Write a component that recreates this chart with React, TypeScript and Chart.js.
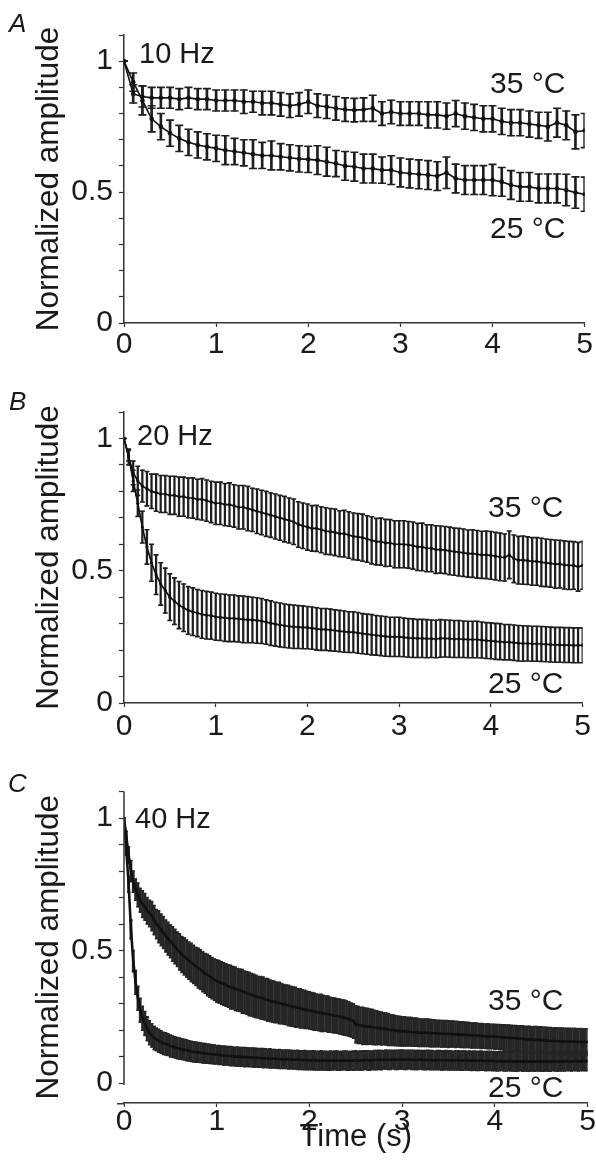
import React, { useEffect, useRef } from 'react';
import { Chart, registerables } from 'chart.js';

Chart.register(...registerables);

const FONT = '"Liberation Sans", Arial, Helvetica, sans-serif';
const INK = '#1a1a1a';

// ---------- axes ----------
const X_TICKS = [0, 1, 2, 3, 4, 5];
const Y_TICKS = [0, 0.1, 0.2, 0.3, 0.4, 0.5, 0.6, 0.7, 0.8, 0.9, 1.0, 1.1];
const Y_LABELED = [0, 0.5, 1];
const Y_TITLE = 'Normalized amplitude';
const X_TITLE = 'Time (s)';

// ---------- stimulation frequencies (sample spacing = 1/freq s) ----------
const FREQ_A = 10;
const FREQ_B = 20;
const FREQ_C = 40;

// ---------- Panel A: 10 Hz ----------
const A_35 = [
  1.00, 0.875, 0.865, 0.86, 0.86, 0.86, 0.855, 0.86, 0.855, 0.855,
  0.85, 0.85, 0.85, 0.845, 0.845, 0.84, 0.84, 0.835, 0.83, 0.835,
  0.845, 0.83, 0.826, 0.82, 0.815, 0.813, 0.815, 0.82, 0.80, 0.806,
  0.80, 0.80, 0.80, 0.795, 0.795, 0.79, 0.80, 0.79, 0.785, 0.78,
  0.78, 0.77, 0.765, 0.765, 0.76, 0.755, 0.75, 0.765, 0.755, 0.73,
  0.735,
];
const A_35_ERR = [
  0, 0.035, 0.04, 0.04, 0.04, 0.04, 0.04, 0.04, 0.04, 0.04,
  0.04, 0.04, 0.04, 0.045, 0.04, 0.045, 0.045, 0.045, 0.045, 0.045,
  0.045, 0.045, 0.045, 0.045, 0.045, 0.045, 0.045, 0.05, 0.045, 0.045,
  0.045, 0.045, 0.045, 0.05, 0.05, 0.05, 0.05, 0.05, 0.05, 0.05,
  0.05, 0.05, 0.05, 0.05, 0.05, 0.05, 0.055, 0.055, 0.055, 0.065,
  0.065,
];
const A_25 = [
  1.00, 0.92, 0.85, 0.78, 0.75, 0.725, 0.705, 0.69, 0.68, 0.673,
  0.667, 0.66, 0.655, 0.65, 0.645, 0.64, 0.64, 0.635, 0.631, 0.627,
  0.625, 0.622, 0.616, 0.609, 0.60, 0.597, 0.59, 0.59, 0.584, 0.584,
  0.575, 0.571, 0.568, 0.565, 0.561, 0.574, 0.552, 0.546, 0.546, 0.546,
  0.546, 0.539, 0.527, 0.52, 0.52, 0.514, 0.514, 0.514, 0.508, 0.498,
  0.492,
];
const A_25_ERR = [
  0, 0.035, 0.055, 0.05, 0.05, 0.05, 0.05, 0.05, 0.05, 0.05,
  0.05, 0.055, 0.05, 0.05, 0.055, 0.05, 0.055, 0.05, 0.05, 0.05,
  0.05, 0.055, 0.055, 0.05, 0.055, 0.055, 0.055, 0.055, 0.05, 0.055,
  0.055, 0.055, 0.055, 0.055, 0.055, 0.06, 0.055, 0.055, 0.055, 0.055,
  0.06, 0.055, 0.055, 0.055, 0.055, 0.055, 0.055, 0.055, 0.06, 0.06,
  0.065,
];

// ---------- Panel B: 20 Hz ----------
const B_35 = [
  1.00, 0.93, 0.87, 0.84, 0.82, 0.81, 0.80, 0.795, 0.79, 0.79,
  0.785, 0.785, 0.78, 0.78, 0.775, 0.775, 0.77, 0.77, 0.765, 0.76,
  0.755, 0.755, 0.75, 0.75, 0.745, 0.74, 0.74, 0.735, 0.73, 0.725,
  0.72, 0.715, 0.71, 0.705, 0.70, 0.695, 0.69, 0.685, 0.675, 0.67,
  0.665, 0.66, 0.66, 0.655, 0.65, 0.648, 0.645, 0.64, 0.64, 0.635,
  0.63, 0.628, 0.625, 0.62, 0.615, 0.61, 0.61, 0.605, 0.605, 0.60,
  0.60, 0.60, 0.598, 0.595, 0.59, 0.59, 0.585, 0.585, 0.58, 0.58,
  0.578, 0.575, 0.572, 0.57, 0.568, 0.565, 0.565, 0.562, 0.56, 0.56,
  0.558, 0.555, 0.552, 0.55, 0.56, 0.545, 0.54, 0.54, 0.538, 0.535,
  0.535, 0.532, 0.53, 0.528, 0.525, 0.525, 0.522, 0.52, 0.52, 0.515,
  0.52,
];
const B_35_ERR = [
  0, 0.03, 0.045, 0.055, 0.06, 0.065, 0.065, 0.07, 0.07, 0.07,
  0.072, 0.072, 0.074, 0.074, 0.075, 0.076, 0.076, 0.078, 0.078, 0.078,
  0.08, 0.08, 0.08, 0.082, 0.08, 0.082, 0.082, 0.084, 0.082, 0.084,
  0.084, 0.085, 0.084, 0.085, 0.085, 0.086, 0.085, 0.086, 0.086, 0.086,
  0.087, 0.086, 0.087, 0.087, 0.088, 0.087, 0.088, 0.087, 0.088, 0.088,
  0.088, 0.088, 0.089, 0.088, 0.089, 0.088, 0.089, 0.089, 0.088, 0.089,
  0.089, 0.089, 0.088, 0.089, 0.089, 0.09, 0.089, 0.089, 0.09, 0.089,
  0.089, 0.09, 0.089, 0.09, 0.09, 0.089, 0.09, 0.09, 0.089, 0.09,
  0.09, 0.09, 0.09, 0.089, 0.09, 0.09, 0.09, 0.091, 0.09, 0.09,
  0.09, 0.091, 0.09, 0.09, 0.091, 0.09, 0.091, 0.091, 0.09, 0.092,
  0.09,
];
const B_25 = [
  1.00, 0.935, 0.84, 0.755, 0.665, 0.59, 0.53, 0.485, 0.45, 0.425,
  0.40, 0.385, 0.37, 0.36, 0.35, 0.345, 0.34, 0.335, 0.332, 0.33,
  0.326, 0.324, 0.322, 0.32, 0.32, 0.318, 0.316, 0.315, 0.314, 0.312,
  0.31, 0.306, 0.302, 0.298, 0.295, 0.292, 0.29, 0.288, 0.287, 0.286,
  0.285, 0.283, 0.28, 0.278, 0.278, 0.276, 0.274, 0.272, 0.27, 0.268,
  0.268, 0.265, 0.262, 0.26, 0.258, 0.256, 0.254, 0.252, 0.25, 0.25,
  0.25, 0.248, 0.246, 0.245, 0.244, 0.244, 0.243, 0.243, 0.242, 0.244,
  0.244, 0.243, 0.242, 0.242, 0.241, 0.24, 0.24, 0.24, 0.238, 0.236,
  0.235, 0.233, 0.232, 0.23, 0.23, 0.228, 0.226, 0.225, 0.225, 0.224,
  0.224, 0.223, 0.222, 0.221, 0.22, 0.22, 0.219, 0.219, 0.218, 0.218,
  0.218,
];
const B_25_ERR = [
  0, 0.02, 0.04, 0.05, 0.06, 0.065, 0.07, 0.075, 0.08, 0.085,
  0.088, 0.088, 0.089, 0.09, 0.09, 0.09, 0.089, 0.09, 0.09, 0.089,
  0.089, 0.088, 0.089, 0.088, 0.088, 0.087, 0.088, 0.087, 0.086, 0.086,
  0.085, 0.084, 0.084, 0.083, 0.083, 0.082, 0.082, 0.082, 0.081, 0.081,
  0.08, 0.08, 0.08, 0.079, 0.079, 0.079, 0.078, 0.078, 0.078, 0.077,
  0.077, 0.077, 0.076, 0.076, 0.076, 0.075, 0.075, 0.075, 0.074, 0.074,
  0.074, 0.073, 0.073, 0.073, 0.072, 0.072, 0.072, 0.071, 0.071, 0.071,
  0.07, 0.07, 0.07, 0.07, 0.069, 0.069, 0.069, 0.069, 0.068, 0.068,
  0.068, 0.068, 0.068, 0.067, 0.067, 0.067, 0.067, 0.067, 0.066, 0.066,
  0.066, 0.066, 0.066, 0.066, 0.066, 0.066, 0.066, 0.066, 0.066, 0.066,
  0.066,
];

// ---------- Panel C: 40 Hz ----------
const C_35 = [
  1.00, 0.93, 0.86, 0.80, 0.76, 0.73, 0.71, 0.69, 0.675, 0.665,
  0.65, 0.64, 0.63, 0.615, 0.60, 0.59, 0.578, 0.568, 0.555, 0.545,
  0.535, 0.525, 0.515, 0.505, 0.495, 0.485, 0.478, 0.47, 0.462, 0.455,
  0.448, 0.44, 0.434, 0.428, 0.42, 0.414, 0.408, 0.402, 0.396, 0.39,
  0.385, 0.382, 0.378, 0.374, 0.37, 0.366, 0.362, 0.36, 0.356, 0.352,
  0.35, 0.346, 0.343, 0.34, 0.336, 0.333, 0.33, 0.327, 0.324, 0.322,
  0.32, 0.316, 0.314, 0.311, 0.308, 0.306, 0.304, 0.302, 0.30, 0.297,
  0.295, 0.293, 0.29, 0.288, 0.286, 0.284, 0.282, 0.28, 0.278, 0.276,
  0.274, 0.272, 0.27, 0.268, 0.266, 0.265, 0.263, 0.262, 0.26, 0.258,
  0.256, 0.255, 0.253, 0.251, 0.249, 0.247, 0.245, 0.242, 0.238, 0.234,
  0.222, 0.22, 0.218, 0.216, 0.215, 0.214, 0.213, 0.212, 0.21, 0.209,
  0.208, 0.206, 0.205, 0.204, 0.202, 0.20, 0.20, 0.198, 0.197, 0.196,
  0.195, 0.195, 0.194, 0.194, 0.193, 0.192, 0.192, 0.191, 0.19, 0.19,
  0.19, 0.19, 0.189, 0.188, 0.188, 0.187, 0.187, 0.186, 0.186, 0.186,
  0.185, 0.185, 0.185, 0.184, 0.184, 0.183, 0.183, 0.182, 0.182, 0.181,
  0.18, 0.18, 0.18, 0.179, 0.178, 0.178, 0.177, 0.177, 0.176, 0.176,
  0.175, 0.175, 0.174, 0.173, 0.172, 0.172, 0.171, 0.17, 0.17, 0.169,
  0.168, 0.168, 0.167, 0.166, 0.165, 0.165, 0.164, 0.164, 0.163, 0.163,
  0.162, 0.162, 0.161, 0.16, 0.16, 0.159, 0.159, 0.158, 0.158, 0.158,
  0.157, 0.157, 0.157, 0.156, 0.156, 0.156, 0.155, 0.155, 0.155, 0.155,
  0.155,
];
const C_35_ERR = [
  0, 0.02, 0.03, 0.04, 0.04, 0.04, 0.045, 0.045, 0.05, 0.05,
  0.05, 0.05, 0.055, 0.055, 0.055, 0.06, 0.06, 0.06, 0.06, 0.062,
  0.062, 0.065, 0.065, 0.065, 0.068, 0.068, 0.07, 0.07, 0.07, 0.072,
  0.072, 0.072, 0.075, 0.075, 0.075, 0.075, 0.078, 0.078, 0.078, 0.078,
  0.08, 0.08, 0.08, 0.08, 0.08, 0.08, 0.082, 0.08, 0.082, 0.08,
  0.08, 0.082, 0.08, 0.08, 0.082, 0.08, 0.08, 0.08, 0.078, 0.08,
  0.08, 0.078, 0.08, 0.078, 0.078, 0.078, 0.076, 0.078, 0.076, 0.075,
  0.075, 0.076, 0.075, 0.074, 0.075, 0.072, 0.074, 0.072, 0.072, 0.07,
  0.07, 0.07, 0.07, 0.068, 0.068, 0.07, 0.068, 0.066, 0.068, 0.066,
  0.066, 0.066, 0.065, 0.066, 0.065, 0.066, 0.065, 0.065, 0.064, 0.065,
  0.07, 0.07, 0.068, 0.07, 0.068, 0.068, 0.066, 0.066, 0.065, 0.064,
  0.062, 0.062, 0.06, 0.06, 0.06, 0.058, 0.058, 0.057, 0.056, 0.056,
  0.055, 0.055, 0.054, 0.054, 0.054, 0.053, 0.053, 0.053, 0.052, 0.052,
  0.052, 0.052, 0.052, 0.051, 0.051, 0.05, 0.05, 0.05, 0.05, 0.05,
  0.05, 0.049, 0.049, 0.049, 0.048, 0.048, 0.048, 0.048, 0.047, 0.047,
  0.047, 0.047, 0.047, 0.046, 0.047, 0.046, 0.046, 0.047, 0.046, 0.046,
  0.047, 0.046, 0.047, 0.047, 0.048, 0.047, 0.048, 0.048, 0.047, 0.048,
  0.048, 0.048, 0.049, 0.048, 0.049, 0.049, 0.048, 0.049, 0.05, 0.049,
  0.05, 0.049, 0.05, 0.05, 0.05, 0.049, 0.05, 0.05, 0.05, 0.05,
  0.05, 0.05, 0.05, 0.05, 0.051, 0.05, 0.05, 0.051, 0.05, 0.05,
  0.05,
];
const C_25 = [
  1.00, 0.88, 0.75, 0.58, 0.46, 0.38, 0.32, 0.275, 0.245, 0.225,
  0.205, 0.19, 0.18, 0.17, 0.165, 0.16, 0.155, 0.15, 0.148, 0.145,
  0.14, 0.138, 0.135, 0.132, 0.13, 0.128, 0.126, 0.124, 0.122, 0.12,
  0.118, 0.117, 0.116, 0.115, 0.113, 0.112, 0.111, 0.11, 0.109, 0.108,
  0.107, 0.106, 0.105, 0.104, 0.104, 0.103, 0.102, 0.101, 0.10, 0.10,
  0.099, 0.099, 0.098, 0.098, 0.097, 0.097, 0.096, 0.096, 0.095, 0.095,
  0.094, 0.094, 0.093, 0.093, 0.092, 0.092, 0.091, 0.091, 0.09, 0.09,
  0.09, 0.089, 0.089, 0.088, 0.088, 0.088, 0.087, 0.087, 0.087, 0.086,
  0.086, 0.086, 0.086, 0.085, 0.085, 0.086, 0.085, 0.085, 0.084, 0.085,
  0.085, 0.086, 0.085, 0.084, 0.085, 0.086, 0.085, 0.084, 0.085, 0.085,
  0.086, 0.085, 0.085, 0.086, 0.087, 0.086, 0.085, 0.086, 0.087, 0.087,
  0.088, 0.087, 0.088, 0.089, 0.088, 0.088, 0.089, 0.088, 0.088, 0.089,
  0.089, 0.088, 0.088, 0.089, 0.088, 0.088, 0.087, 0.088, 0.088, 0.087,
  0.087, 0.088, 0.087, 0.087, 0.086, 0.087, 0.087, 0.086, 0.086, 0.087,
  0.086, 0.086, 0.085, 0.086, 0.086, 0.085, 0.085, 0.086, 0.085, 0.085,
  0.084, 0.085, 0.084, 0.084, 0.085, 0.084, 0.083, 0.084, 0.084, 0.083,
  0.083, 0.082, 0.083, 0.083, 0.082, 0.082, 0.083, 0.082, 0.082, 0.081,
  0.082, 0.082, 0.081, 0.082, 0.081, 0.081, 0.082, 0.081, 0.081, 0.082,
  0.081, 0.081, 0.082, 0.081, 0.081, 0.082, 0.082, 0.081, 0.082, 0.082,
  0.082, 0.083, 0.082, 0.082, 0.083, 0.083, 0.082, 0.083, 0.083, 0.083,
  0.083,
];
const C_25_ERR = [
  0, 0.02, 0.03, 0.035, 0.04, 0.045, 0.045, 0.045, 0.045, 0.045,
  0.045, 0.045, 0.044, 0.044, 0.043, 0.043, 0.042, 0.042, 0.042, 0.041,
  0.041, 0.04, 0.04, 0.04, 0.04, 0.039, 0.039, 0.039, 0.038, 0.038,
  0.038, 0.038, 0.037, 0.037, 0.037, 0.037, 0.036, 0.036, 0.036, 0.036,
  0.035, 0.036, 0.035, 0.036, 0.035, 0.035, 0.036, 0.035, 0.035, 0.036,
  0.035, 0.035, 0.036, 0.035, 0.035, 0.035, 0.036, 0.035, 0.035, 0.035,
  0.036, 0.035, 0.035, 0.036, 0.035, 0.035, 0.035, 0.036, 0.035, 0.035,
  0.035, 0.036, 0.035, 0.035, 0.035, 0.036, 0.035, 0.035, 0.036, 0.035,
  0.035, 0.035, 0.036, 0.035, 0.035, 0.036, 0.035, 0.035, 0.035, 0.036,
  0.035, 0.035, 0.036, 0.035, 0.035, 0.035, 0.036, 0.035, 0.035, 0.036,
  0.036, 0.035, 0.036, 0.036, 0.035, 0.036, 0.036, 0.035, 0.036, 0.036,
  0.036, 0.036, 0.035, 0.036, 0.036, 0.036, 0.035, 0.036, 0.036, 0.036,
  0.036, 0.036, 0.036, 0.035, 0.036, 0.036, 0.036, 0.036, 0.035, 0.036,
  0.036, 0.036, 0.036, 0.036, 0.035, 0.036, 0.036, 0.036, 0.036, 0.036,
  0.036, 0.036, 0.035, 0.036, 0.036, 0.036, 0.036, 0.036, 0.035, 0.036,
  0.036, 0.036, 0.036, 0.036, 0.036, 0.035, 0.036, 0.036, 0.036, 0.036,
  0.036, 0.036, 0.036, 0.035, 0.036, 0.036, 0.036, 0.036, 0.036, 0.036,
  0.036, 0.035, 0.036, 0.036, 0.036, 0.036, 0.036, 0.036, 0.035, 0.036,
  0.036, 0.036, 0.036, 0.036, 0.036, 0.035, 0.036, 0.036, 0.036, 0.036,
  0.036, 0.036, 0.035, 0.036, 0.036, 0.036, 0.036, 0.036, 0.036, 0.036,
  0.036,
];

// ---------- rendering ----------
type TextItem = { text: string; x: number; y: number; size: number; italic?: boolean };

interface PanelSpec {
  key: string;
  freq: number;
  m35: number[];
  e35: number[];
  m25: number[];
  e25: number[];
  top: number;
  height: number;
  padTop: number;
  xAxisHeight: number;
  yMin: number;
  xTickPad: number;
  capR: number;
  barW: number;
  lineW: number;
  dotR: number;
  barColor: string;
  splitAxis: boolean;
  showXTitle: boolean;
  texts: TextItem[];
}

function sampleTimes(n: number, freq: number): number[] {
  const t: number[] = [];
  for (let i = 0; i < n; i++) t.push(i / freq);
  return t;
}

function seriesDatasets(times: number[], mean: number[], err: number[], s: PanelSpec): any[] {
  const caps: { x: number; y: number }[] = [];
  times.forEach((t, i) => {
    caps.push({ x: t, y: mean[i] - err[i] });
    caps.push({ x: t, y: mean[i] + err[i] });
  });
  return [
    {
      type: 'bar',
      data: times.map((t, i) => ({ x: t, y: [mean[i] - err[i], mean[i] + err[i]] })),
      backgroundColor: s.barColor,
      borderWidth: 0,
      barPercentage: 1,
      categoryPercentage: 1,
      maxBarThickness: s.barW,
      grouped: false,
      order: 3,
    },
    {
      type: 'line',
      data: caps,
      showLine: false,
      pointStyle: 'line',
      pointRadius: s.capR,
      pointBorderColor: s.barColor,
      pointBorderWidth: 1.6,
      order: 2,
    },
    {
      type: 'line',
      data: times.map((t, i) => ({ x: t, y: mean[i] })),
      borderColor: '#111',
      borderWidth: s.lineW,
      pointRadius: s.dotR,
      pointBackgroundColor: '#111',
      pointBorderWidth: 0,
      tension: 0,
      fill: false,
      order: 1,
    },
  ];
}

function makeTextPlugin(items: TextItem[]) {
  return {
    id: 'panelText',
    afterDraw(chart: any) {
      const ctx = chart.ctx as CanvasRenderingContext2D;
      ctx.save();
      ctx.fillStyle = INK;
      ctx.textAlign = 'left';
      ctx.textBaseline = 'alphabetic';
      for (const it of items) {
        ctx.font = `${it.italic ? 'italic ' : ''}${it.size}px ${FONT}`;
        ctx.fillText(it.text, it.x, it.y);
      }
      ctx.restore();
    },
  };
}

function makeAxisSegmentPlugin(enabled: boolean) {
  return {
    id: 'yAxisSegment',
    afterDatasetsDraw(chart: any) {
      if (!enabled) return;
      const y = chart.scales.y;
      const x = chart.chartArea.left;
      const ctx = chart.ctx as CanvasRenderingContext2D;
      ctx.save();
      ctx.strokeStyle = '#333';
      ctx.lineWidth = 1.5;
      ctx.beginPath();
      ctx.moveTo(x, y.getPixelForValue(Y_TICKS[Y_TICKS.length - 1]));
      ctx.lineTo(x, y.getPixelForValue(0) + 2);
      ctx.stroke();
      ctx.beginPath();
      ctx.moveTo(x - 7, chart.chartArea.bottom + 0.75);
      ctx.lineTo(x, chart.chartArea.bottom + 0.75);
      ctx.stroke();
      ctx.restore();
    },
  };
}

function yLabel(v: number): string {
  for (const l of Y_LABELED) if (Math.abs(v - l) < 1e-6) return String(l);
  return '';
}

function buildConfig(s: PanelSpec): any {
  const times35 = sampleTimes(s.m35.length, s.freq);
  const times25 = sampleTimes(s.m25.length, s.freq);
  const datasets = [
    ...seriesDatasets(times35, s.m35, s.e35, s),
    ...seriesDatasets(times25, s.m25, s.e25, s),
  ];
  return {
    type: 'bar',
    data: { datasets },
    options: {
      responsive: false,
      animation: false,
      events: [],
      layout: { padding: { left: 0, right: 8, top: s.padTop, bottom: 0 } },
      plugins: { legend: { display: false }, tooltip: { enabled: false } },
      scales: {
        x: {
          type: 'linear',
          min: X_TICKS[0],
          max: X_TICKS[X_TICKS.length - 1],
          offset: false,
          afterBuildTicks: (scale: any) => {
            scale.ticks = X_TICKS.map((v) => ({ value: v }));
          },
          ticks: {
            autoSkip: false,
            maxRotation: 0,
            padding: s.xTickPad,
            color: INK,
            font: { family: FONT, size: 30, lineHeight: 1.0 },
            callback: (v: number) => String(v),
          },
          grid: {
            display: true,
            drawOnChartArea: false,
            drawTicks: true,
            tickLength: 4,
            tickColor: '#333',
            tickWidth: 1.2,
            offset: false,
          },
          border: { display: true, color: '#333', width: 1.5 },
          title: {
            display: s.showXTitle,
            text: X_TITLE,
            color: INK,
            font: { family: FONT, size: 31, lineHeight: 1.2 },
            padding: { top: 0, bottom: 15 },
          },
          afterFit: (scale: any) => {
            scale.height = s.xAxisHeight;
          },
        },
        y: {
          type: 'linear',
          min: s.yMin,
          max: Y_TICKS[Y_TICKS.length - 1],
          afterBuildTicks: (scale: any) => {
            scale.ticks = Y_TICKS.map((v) => ({ value: v }));
          },
          ticks: {
            autoSkip: false,
            padding: 6,
            color: INK,
            font: { family: FONT, size: 30, lineHeight: 1.0 },
            callback: (v: number) => yLabel(v),
          },
          grid: {
            display: true,
            drawOnChartArea: false,
            drawTicks: true,
            tickLength: 5,
            tickColor: '#333',
            tickWidth: 1.2,
          },
          border: { display: !s.splitAxis, color: '#333', width: 1.5 },
          title: {
            display: true,
            text: Y_TITLE,
            color: INK,
            font: { family: FONT, size: 31.5, lineHeight: 1.2 },
            padding: { top: 30, bottom: 0 },
          },
          afterFit: (scale: any) => {
            scale.width = 124;
          },
        },
      },
    },
    plugins: [makeTextPlugin(s.texts), makeAxisSegmentPlugin(s.splitAxis)],
  };
}

const PANELS: PanelSpec[] = [
  {
    key: 'A', freq: FREQ_A, m35: A_35, e35: A_35_ERR, m25: A_25, e25: A_25_ERR,
    top: 0, height: 380, padTop: 35, xAxisHeight: 57, yMin: 0, xTickPad: 3,
    capR: 4, barW: 2, lineW: 1.6, dotR: 2.3, barColor: '#1e1e1e',
    splitAxis: false, showXTitle: false,
    texts: [
      { text: 'A', x: 9, y: 32, size: 26, italic: true },
      { text: '10 Hz', x: 139, y: 63, size: 29 },
      { text: '35 °C', x: 490, y: 93, size: 30 },
      { text: '25 °C', x: 490, y: 238, size: 30 },
    ],
  },
  {
    key: 'B', freq: FREQ_B, m35: B_35, e35: B_35_ERR, m25: B_25, e25: B_25_ERR,
    top: 380, height: 380, padTop: 32, xAxisHeight: 57, yMin: 0, xTickPad: 5,
    capR: 2.5, barW: 1.6, lineW: 1.7, dotR: 1.6, barColor: '#1e1e1e',
    splitAxis: false, showXTitle: false,
    texts: [
      { text: 'B', x: 9, y: 30, size: 26, italic: true },
      { text: '20 Hz', x: 137, y: 65, size: 29 },
      { text: '35 °C', x: 488, y: 137, size: 30 },
      { text: '25 °C', x: 488, y: 313, size: 30 },
    ],
  },
  {
    key: 'C', freq: FREQ_C, m35: C_35, e35: C_35_ERR, m25: C_25, e25: C_25_ERR,
    top: 760, height: 411, padTop: 31.5, xAxisHeight: 68, yMin: -0.075, xTickPad: 0,
    capR: 1.6, barW: 2.1, lineW: 2.6, dotR: 1, barColor: '#262626',
    splitAxis: true, showXTitle: true,
    texts: [
      { text: 'C', x: 8, y: 32, size: 26, italic: true },
      { text: '40 Hz', x: 135, y: 68, size: 29 },
      { text: '35 °C', x: 488, y: 250, size: 30 },
      { text: '25 °C', x: 488, y: 337, size: 30 },
    ],
  },
];

function Panel({ spec }: { spec: PanelSpec }) {
  const ref = useRef<HTMLCanvasElement>(null);
  useEffect(() => {
    const canvas = ref.current;
    if (!canvas) return;
    const chart = new Chart(canvas, buildConfig(spec));
    return () => chart.destroy();
  }, [spec]);
  return (
    <canvas
      ref={ref}
      width={596}
      height={spec.height}
      style={{ position: 'absolute', left: 0, top: spec.top, width: 596, height: spec.height, display: 'block' }}
    />
  );
}

export default function App() {
  return (
    <div style={{ position: 'absolute', left: 0, top: 0, width: 596, height: 1171, background: '#fff', overflow: 'hidden' }}>
      {PANELS.map((p) => (
        <Panel key={p.key} spec={p} />
      ))}
    </div>
  );
}
